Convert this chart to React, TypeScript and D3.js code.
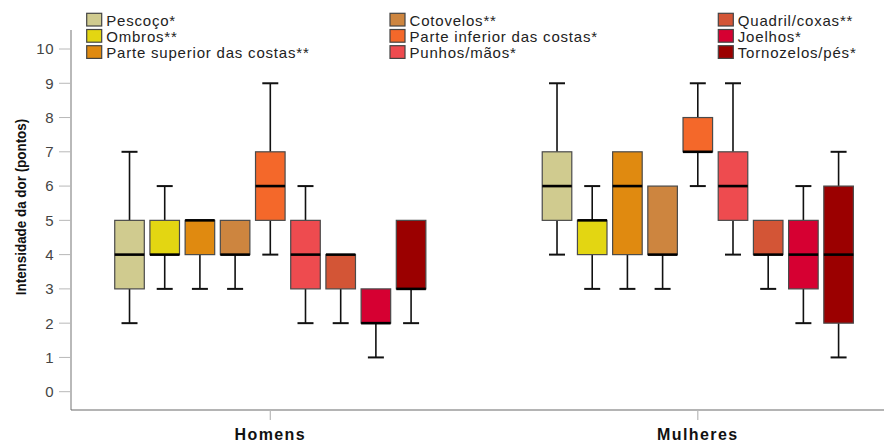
import React from "react";
import * as d3 from "d3";

const groups = ["Homens", "Mulheres"];
const regions = [
  "Pescoço*",
  "Ombros**",
  "Parte superior das costas**",
  "Cotovelos**",
  "Parte inferior das costas*",
  "Punhos/mãos*",
  "Quadril/coxas**",
  "Joelhos*",
  "Tornozelos/pés*",
];
const colors = [
  "#d0cb8f",
  "#e3d612",
  "#e08a10",
  "#cd853f",
  "#f4682a",
  "#ee4b4f",
  "#d35536",
  "#d60032",
  "#9b0000",
];
// [min, q1, median, q3, max]
const homens = [
  [2, 3, 4, 5, 7],
  [3, 4, 4, 5, 6],
  [3, 4, 5, 5, 5],
  [3, 4, 4, 5, 5],
  [4, 5, 6, 7, 9],
  [2, 3, 4, 5, 6],
  [2, 3, 4, 4, 4],
  [1, 2, 2, 3, 3],
  [2, 3, 3, 5, 5],
];
const mulheres = [
  [4, 5, 6, 7, 9],
  [3, 4, 5, 5, 6],
  [3, 4, 6, 7, 7],
  [3, 4, 4, 6, 6],
  [6, 7, 7, 8, 9],
  [4, 5, 6, 7, 9],
  [3, 4, 4, 5, 5],
  [2, 3, 4, 5, 6],
  [1, 2, 4, 6, 7],
];
const yTicks = [0, 1, 2, 3, 4, 5, 6, 7, 8, 9, 10];
const yTitle = "Intensidade da dor (pontos)";

const W = 884;
const H = 443;
const axisX = 71;
const axisTop = 30;
const axisBottom = 410;

export default function App() {
  const y = d3.scaleLinear().domain([0, 10]).range([391.7, 49]);
  const gx = d3.scalePoint<string>().domain(groups).range([270.3, 697.8]);
  const inner = d3
    .scaleBand<string>()
    .domain(regions)
    .range([-161.2, 161.2])
    .padding(0.16);
  const bw = inner.bandwidth();
  const data = [homens, mulheres];
  const font = "'Liberation Sans', Arial, sans-serif";

  return (
    <svg
      width={W}
      height={H}
      style={{ position: "absolute", left: 0, top: 0, background: "#fff" }}
      fontFamily={font}
    >
      <rect x={0} y={0} width={W} height={H} fill="#fff" />
      {/* axes */}
      <line x1={axisX} x2={axisX} y1={axisTop} y2={axisBottom} stroke="#8a8a8a" strokeWidth={1.2} />
      <line x1={axisX} x2={W} y1={axisBottom} y2={axisBottom} stroke="#6a6a6a" strokeWidth={1.2} />
      {yTicks.map((t) => (
        <g key={t}>
          <line x1={59} x2={axisX} y1={y(t)} y2={y(t)} stroke="#b8b8b8" strokeWidth={1} />
          <text
            x={54}
            y={y(t)}
            dy="0.36em"
            textAnchor="end"
            fontSize={15}
            fill="#444"
            letterSpacing={0.5}
          >
            {t}
          </text>
        </g>
      ))}
      {groups.map((g) => (
        <g key={g}>
          <line x1={gx(g)} x2={gx(g)} y1={axisBottom} y2={420} stroke="#b8b8b8" strokeWidth={1.2} />
          <text
            x={gx(g)}
            y={440}
            textAnchor="middle"
            fontSize={16}
            fontWeight="bold"
            fill="#111"
            letterSpacing={1.4}
          >
            {g}
          </text>
        </g>
      ))}
      <text
        transform={`translate(25.5,${207}) scale(1.15,1) rotate(-90)`}
        textAnchor="middle"
        fontSize={13.4}
        fontWeight="bold"
        fill="#111"
      >
        {yTitle}
      </text>
      {/* boxes */}
      {groups.map((g, gi) =>
        data[gi].map((s, i) => {
          const cx = (gx(g) as number) + (inner(regions[i]) as number) + bw / 2;
          const [mn, q1, md, q3, mx] = s;
          const x0 = cx - bw / 2;
          return (
            <g key={g + i}>
              {mx > q3 && (
                <>
                  <line x1={cx} x2={cx} y1={y(mx)} y2={y(q3)} stroke="#111" strokeWidth={1.6} />
                  <line x1={cx - 8} x2={cx + 8} y1={y(mx)} y2={y(mx)} stroke="#111" strokeWidth={2} />
                </>
              )}
              {mn < q1 && (
                <>
                  <line x1={cx} x2={cx} y1={y(q1)} y2={y(mn)} stroke="#111" strokeWidth={1.6} />
                  <line x1={cx - 8} x2={cx + 8} y1={y(mn)} y2={y(mn)} stroke="#111" strokeWidth={2} />
                </>
              )}
              <rect
                x={x0}
                y={y(q3)}
                width={bw}
                height={y(q1) - y(q3)}
                fill={colors[i]}
                stroke="#4a4a4a"
                strokeWidth={1.2}
              />
              <line x1={x0} x2={x0 + bw} y1={y(md)} y2={y(md)} stroke="#000" strokeWidth={2.6} />
            </g>
          );
        })
      )}
      {/* legend */}
      {regions.map((r, i) => {
        const col = Math.floor(i / 3);
        const row = i % 3;
        const lx = [86.7, 390, 718.3][col];
        const ly = 13.3 + row * 16.2;
        return (
          <g key={r}>
            <rect x={lx} y={ly} width={15} height={12.7} fill={colors[i]} stroke="#444" strokeWidth={1.2} />
            <text x={lx + 19.5} y={ly + 12.5} fontSize={15} fill="#222" letterSpacing={0.8}>
              {r}
            </text>
          </g>
        );
      })}
    </svg>
  );
}
